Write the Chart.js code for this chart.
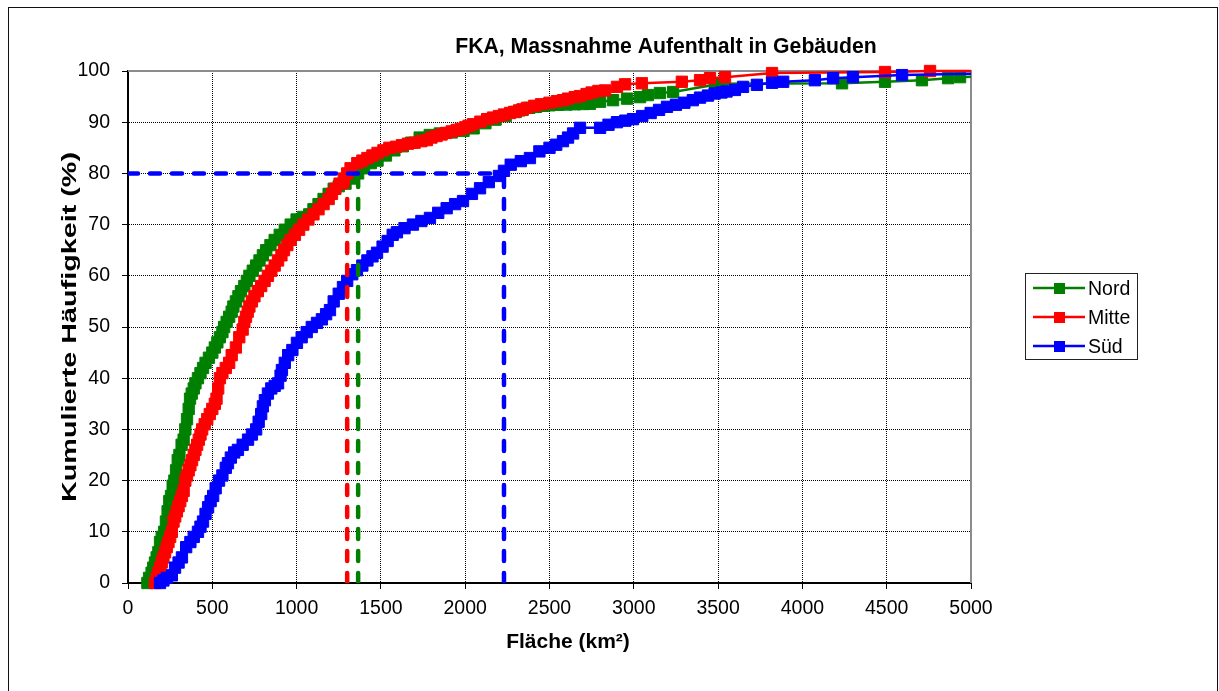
<!DOCTYPE html>
<html>
<head>
<meta charset="utf-8">
<script src="https://cdn.jsdelivr.net/npm/chart.js@4.4.1/dist/chart.umd.min.js"></script>
<style>
  html, body { margin: 0; padding: 0; background: #fff; }
  #wrap { position: relative; width: 1219px; height: 691px; }
</style>
</head>
<body>
<div id="wrap"><canvas id="c" width="1219" height="691"></canvas></div>
<script>
// Axis ranges and ticks
const xMin = 0, xMax = 5000, xStep = 500;
const yMin = 0, yMax = 100, yStep = 10;

const chartTitle = 'FKA, Massnahme Aufenthalt in Gebäuden';
const xTitle = 'Fläche (km²)';
const yTitle = 'Kumulierte Häufigkeit (%)';

const seriesNames = ['Nord', 'Mitte', 'Süd'];
const seriesColors = ['#008000', '#ff0000', '#0000ff'];

// Cumulative frequency (%) against area (km²)
const nordArea = [115,125,140,150,160,170,180,190,200,215,225,235,245,255,265,275,285,295,305,318,330,340,350,360,368,378,390,400,415,430,445,460,480,500,515,530,545,560,570,585,600,615,625,640,655,670,690,705,720,740,760,780,800,820,845,870,900,930,965,1000,1040,1075,1100,1130,1160,1190,1220,1250,1290,1330,1365,1400,1440,1480,1530,1580,1630,1680,1730,1790,1850,1920,1990,2050,2120,2180,2240,2300,2340,2380,2420,2460,2500,2550,2600,2650,2700,2740,2800,2877,2960,3037,3084,3155,3233,3481,3523,4235,4490,4709,4864,4935,5300];
const nordFreq = [0,1,2,3,4,5,6,8,9,10,12,14,16,17,19,20,22,24,25,27,28,30,32,34,36,37,38,39,40,41,42,43,44,45,46,47,48,49,50,51,52,53,54,55,56,57,58,59,60,61,62,63,64,65,66,67,68,69,70,71,71.5,72,73,74,75,76,77,77.5,78,79,80,81,82,82.5,83.5,84.5,85.3,86,87,87.5,87.8,88,88.3,88.8,89.8,90.5,91.2,92,92.4,92.8,93,93.2,93.3,93.4,93.45,93.5,93.55,93.6,94,94.3,94.6,94.9,95.3,95.7,95.9,97.3,97.5,97.6,97.9,98.2,98.6,98.8,99.2];

const mitteArea = [160,170,180,190,200,210,220,230,240,250,260,270,280,290,300,310,320,330,340,350,360,370,380,390,400,410,420,430,440,455,470,485,500,515,525,535,545,560,580,600,615,640,660,680,690,700,710,720,735,750,770,790,810,830,850,870,890,910,925,945,965,990,1015,1040,1070,1100,1130,1160,1190,1210,1230,1255,1280,1300,1320,1360,1390,1420,1450,1480,1515,1550,1590,1625,1660,1700,1740,1773,1800,1830,1860,1886,1920,1950,1975,2000,2020,2046,2090,2130,2165,2200,2230,2266,2290,2320,2340,2366,2410,2450,2500,2544,2580,2610,2650,2681,2720,2750,2790,2830,2900,2948,3048,3285,3393,3452,3541,3820,4490,4757,5300];
const mitteFreq = [0,1,2,3,4,5,6,7,8,9,10,12,13,14,15,16,17,18,20,21,22,23,24,25,26,27,28,29,30,31,32,33,34,35,36,38,40,41,42,43,44.5,46,48,49.5,51,52,53,54,55,56,57,58,59,60,61,62,63,64,65,66,67,68,69,70,71,72,73,74,75,76,77,78,79,80,81,82,82.5,83,83.5,84,84.5,85,85.2,85.5,85.8,86,86.3,86.5,87,87.3,87.6,87.9,88.2,88.5,88.7,89,89.3,89.6,90.1,90.6,90.9,91.2,91.5,91.8,92,92.3,92.5,92.8,93.2,93.5,93.8,94.1,94.3,94.6,94.9,95.1,95.5,95.8,96.1,96.2,96.9,97.4,97.6,97.9,98.2,98.6,98.8,99.6,99.8,100,100];

const suedArea = [190,210,230,260,279,300,320,345,370,390,415,430,445,460,475,490,505,520,540,560,580,593,610,630,652,680,712,735,760,775,790,800,812,830,850,870,890,905,913,930,950,975,1002,1030,1060,1090,1121,1150,1175,1198,1220,1250,1275,1300,1330,1358,1390,1420,1450,1477,1510,1540,1570,1595,1640,1690,1740,1791,1840,1890,1940,1987,2040,2088,2140,2200,2230,2270,2330,2384,2440,2500,2540,2580,2610,2640,2681,2800,2850,2900,2950,2995,3050,3100,3150,3197,3250,3300,3350,3393,3440,3480,3520,3550,3600,3648,3730,3820,3886,4074,4182,4300,4591,5400];
const suedFreq = [0,0.5,1,1.5,3,4,5,7,8,9,10,11,12,13.5,14.8,16,17,18.5,20,21,22.5,23.4,24.5,25.5,26,27,28,29,30,31.5,33,34.5,35.7,37,38,38.5,39,40.5,41.6,43,44.5,45.5,46.9,48,49,50,50.8,51.5,52.5,53.3,55,56.5,57.8,59,60.3,61.1,62,63,63.8,64.5,65.7,66.8,68,68.5,69.3,70,70.7,71.3,72.3,73.2,74,74.6,76,77.1,78.3,79.5,80.5,81.7,82.4,83,84.3,85,85.6,86.3,87,87.8,88.9,88.9,89.5,90,90.3,90.6,91.2,91.8,92.4,93,93.4,93.8,94.3,94.8,95.2,95.6,95.8,96,96.3,96.9,97.3,97.7,97.9,98.2,98.6,98.8,99.2,99.7];

// 80 % quantile of each region
const quantileLevel = 80;
const quantileArea = [1365, 1300, 2230];

const seriesArea = [nordArea, mitteArea, suedArea];
const seriesFreq = [nordFreq, mitteFreq, suedFreq];
const drawOrder = [3, 2, 1];

const FONT = '"Liberation Sans", Arial, sans-serif';

const datasets = [];
seriesNames.forEach((name, i) => {
  datasets.push({
    label: name,
    data: seriesArea[i].map((x, k) => ({ x, y: seriesFreq[i][k] })),
    borderColor: seriesColors[i],
    backgroundColor: seriesColors[i],
    borderWidth: 2.5,
    pointStyle: 'rect',
    pointRadius: 8,
    pointBorderWidth: 1,
    pointBorderColor: seriesColors[i],
    pointBackgroundColor: seriesColors[i],
    tension: 0,
    order: drawOrder[i],
    clip: { left: 8, top: 8, right: 0, bottom: 8 }
  });
});

// dashed guide lines at the 80 % level
const dashStyle = { borderWidth: 4.5, borderDash: [10, 12], borderCapStyle: 'round', pointRadius: 0, tension: 0, order: 0, fill: false };
datasets.push(Object.assign({
  label: 'h80',
  data: [{ x: xMin, y: quantileLevel }, { x: quantileArea[2], y: quantileLevel }],
  borderColor: seriesColors[2]
}, dashStyle));
quantileArea.forEach((q, i) => {
  datasets.push(Object.assign({
    label: 'v80-' + seriesNames[i],
    data: [{ x: q, y: yMin }, { x: q, y: quantileLevel }],
    borderColor: seriesColors[i]
  }, dashStyle));
});

const decor = {
  id: 'decor',
  beforeDraw(chart) {
    const ctx = chart.ctx;
    ctx.save();
    ctx.fillStyle = '#fff';
    ctx.fillRect(0, 0, chart.width, chart.height);
    ctx.strokeStyle = '#111';
    ctx.lineWidth = 1;
    ctx.strokeRect(8.5, 7.5, 1209, 720);
    ctx.restore();
  },
  beforeDatasetsDraw(chart) {
    const { left, top, right, bottom } = chart.chartArea;
    const ctx = chart.ctx;
    ctx.save();
    ctx.strokeStyle = '#8c8c8c';
    ctx.lineWidth = 2;
    ctx.beginPath();
    ctx.moveTo(left, top);
    ctx.lineTo(right, top);
    ctx.lineTo(right, bottom);
    ctx.stroke();
    ctx.restore();
  },
  afterDraw(chart) {
    const ctx = chart.ctx;
    const area = chart.chartArea;
    ctx.save();
    ctx.fillStyle = '#000';
    // chart title
    ctx.font = 'bold 21.2px ' + FONT;
    ctx.textAlign = 'center';
    ctx.textBaseline = 'alphabetic';
    ctx.fillText(chartTitle, 666, 52.5);
    // x axis title
    ctx.font = 'bold 21px ' + FONT;
    ctx.fillText(xTitle, 568, 648);
    // y axis title, rotated and drawn a little elongated
    ctx.save();
    ctx.translate(70, (area.top + area.bottom) / 2);
    ctx.rotate(-Math.PI / 2);
    ctx.scale(1.37, 1);
    ctx.textBaseline = 'middle';
    ctx.fillText(yTitle, 0, 0);
    ctx.restore();
    // legend
    const bx = 1025.5, by = 273.5, bw = 112, bh = 86;
    ctx.fillStyle = '#fff';
    ctx.fillRect(bx, by, bw, bh);
    ctx.strokeStyle = '#222';
    ctx.lineWidth = 1;
    ctx.strokeRect(bx, by, bw, bh);
    ctx.font = '19.5px ' + FONT;
    ctx.textAlign = 'left';
    ctx.textBaseline = 'alphabetic';
    seriesNames.forEach((name, i) => {
      const y = 288 + i * 29;
      ctx.strokeStyle = seriesColors[i];
      ctx.lineWidth = 2.5;
      ctx.beginPath();
      ctx.moveTo(1033, y);
      ctx.lineTo(1085, y);
      ctx.stroke();
      ctx.fillStyle = seriesColors[i];
      ctx.fillRect(1054, y - 5, 11, 11);
      ctx.fillStyle = '#000';
      ctx.fillText(name, 1088, y + 6.5);
    });
    ctx.restore();
  }
};

const tickFont = { family: FONT, size: 19.5 };
const plainNumber = v => String(v);

new Chart(document.getElementById('c'), {
  type: 'line',
  data: { datasets },
  options: {
    responsive: false,
    animation: false,
    events: [],
    layout: { padding: { left: 0, top: 71, right: 248, bottom: 0 } },
    plugins: { legend: { display: false }, tooltip: { enabled: false }, title: { display: false } },
    scales: {
      x: {
        type: 'linear',
        min: xMin, max: xMax,
        ticks: { stepSize: xStep, font: tickFont, color: '#000', padding: 8, maxRotation: 0, autoSkip: false, callback: plainNumber },
        grid: { color: '#000', lineWidth: 1, tickLength: 6, tickColor: '#000', tickWidth: 1 },
        border: { display: true, color: '#000', width: 2, dash: [1, 1] },
        afterFit(scale) { scale.height = 108; }
      },
      y: {
        type: 'linear',
        min: yMin, max: yMax,
        ticks: { stepSize: yStep, font: tickFont, color: '#000', padding: 12, callback: plainNumber },
        grid: { color: '#000', lineWidth: 1, tickLength: 6, tickColor: '#000', tickWidth: 1 },
        border: { display: true, color: '#000', width: 2, dash: [1, 1] },
        afterFit(scale) { scale.width = 128; }
      }
    }
  },
  plugins: [decor]
});
</script>
</body>
</html>
